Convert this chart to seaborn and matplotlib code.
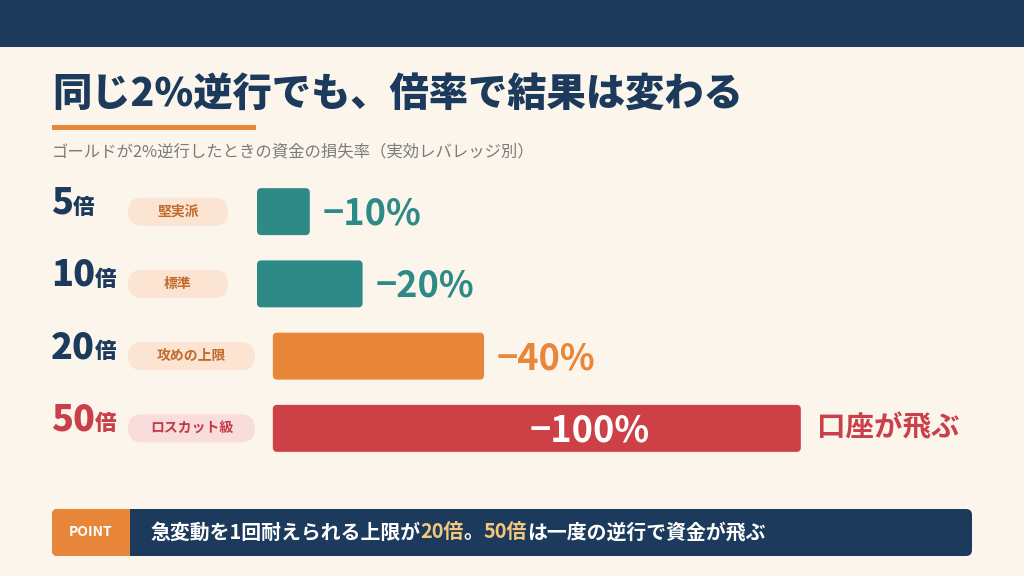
import matplotlib.pyplot as plt
import matplotlib.transforms as mtransforms
from matplotlib.patches import FancyBboxPatch, Rectangle
import seaborn as sns
import pandas as pd


TITLE = "同じ2%逆行でも、倍率で結果は変わる"
SUBTITLE = "ゴールドが2%逆行したときの資金の損失率（実効レバレッジ別）"
LEVERAGE = ["5", "10", "20", "50"]
LOSS = [10, 20, 40, 100]
LOSS_LABELS = ["−10%", "−20%", "−40%", "−100%"]
TAGS = ["堅実派", "標準", "攻めの上限", "ロスカット級"]
NOTE = "口座が飛ぶ"
POINT_PARTS = [
    ("急変動を1回耐えられる上限が", False),
    ("20倍", True),
    ("。", False),
    ("50倍", True),
    ("は一度の逆行で資金が飛ぶ", False),
]

NAVY = "#1b3a5c"
CREAM = "#fcf5ec"
TEAL = "#2e8a87"
ORANGE = "#e8863a"
RED = "#cc4046"
GOLD = "#f3c77d"
BAR_COLORS = [TEAL, TEAL, ORANGE, RED]
LABEL_COLORS = [NAVY, NAVY, NAVY, "#c9404a"]
PILL_FACE = ["#fbe5d2", "#fbe5d2", "#fbe5d2", "#f9dcdc"]
PILL_TEXT = ["#c06a2c", "#c06a2c", "#c06a2c", "#c23b48"]
PILL_W = [100, 100, 127, 127]
BAR_SHIFT = [0, 0, 3, 3]   # bars of the wider pills start a little further right
PX = 5.28                  # pixels per 1 % of loss
ROW = 72                   # pixels per row

sns.set_theme(style="white")
plt.rcParams["font.family"] = ["Noto Sans CJK JP", "DejaVu Sans"]

fig = plt.figure(figsize=(10.24, 5.76), dpi=100, facecolor=CREAM)

# pixel-space layer for the decoration
bg = fig.add_axes([0, 0, 1, 1])
bg.set_xlim(0, 1024)
bg.set_ylim(576, 0)
bg.axis("off")

bg.add_patch(Rectangle((0, 0), 1024, 47, fc=NAVY, ec="none"))
bg.text(52, 95, TITLE, fontsize=28.3, weight="black", color=NAVY, va="center", ha="left")
bg.add_patch(Rectangle((52, 125), 204, 5, fc=ORANGE, ec="none"))
bg.text(52, 152, SUBTITLE, fontsize=11.8, color="#7b7b7b", va="center", ha="left")

# bar chart
ax = fig.add_axes([257 / 1024, 1 - 464.5 / 576, 740 / 1024, 289 / 576])
ax.patch.set_alpha(0)
df = pd.DataFrame({"lev": [l + "倍" for l in LEVERAGE], "loss": LOSS})
sns.barplot(data=df, x="loss", y="lev", hue="lev", palette=BAR_COLORS,
            legend=False, orient="h", width=0.65, ax=ax)
ax.set_xlim(0, 740 / PX)
ax.set_ylim(3.5, -0.5)
ax.axis("off")

for bar in list(ax.patches):
    x, y, w, h = bar.get_x(), bar.get_y(), bar.get_width(), bar.get_height()
    i = int(round(y + h / 2))
    bar.set_visible(False)
    ax.add_patch(FancyBboxPatch((x + BAR_SHIFT[i], y), w, h,
                                boxstyle="round,pad=0,rounding_size=0.8",
                                mutation_aspect=PX / ROW,
                                fc=BAR_COLORS[i], ec="none"))

trans = mtransforms.blended_transform_factory(bg.transData, ax.transData)

for i in range(len(LEVERAGE)):
    base = i + 2 / ROW
    t = ax.text(51, base, LEVERAGE[i], transform=trans, fontsize=26, weight="black",
                color=LABEL_COLORS[i], va="baseline", ha="left")
    ax.annotate("倍", xy=(1, base), xycoords=(t, trans), xytext=(0, 0),
                textcoords="offset points", fontsize=15.5, weight="black",
                color=LABEL_COLORS[i], va="baseline", ha="left")

    yc = 576 - ax.transData.transform((0, i))[1]
    bg.add_patch(FancyBboxPatch((128, yc - 14), PILL_W[i], 28,
                                boxstyle="round,pad=0,rounding_size=14",
                                fc=PILL_FACE[i], ec="none"))
    bg.text(128 + PILL_W[i] / 2, yc, TAGS[i], fontsize=10, weight="bold",
            color=PILL_TEXT[i], va="center", ha="center")

    end = BAR_SHIFT[i] + LOSS[i]
    if i < 3:
        ax.text(end + 2.4, i + 13 / ROW, LOSS_LABELS[i], fontsize=26, weight="bold",
                color=BAR_COLORS[i], va="baseline", ha="left")
    else:
        ax.text(BAR_SHIFT[i] + LOSS[i] * 0.6, i + 13 / ROW, LOSS_LABELS[i], fontsize=26,
                weight="bold", color="white", va="baseline", ha="center")
        ax.text(end + 3, i, NOTE, fontsize=20.5, weight="bold", color="#c9404a",
                va="center", ha="left")

# POINT banner
bg.add_patch(FancyBboxPatch((52, 509), 920, 47, boxstyle="round,pad=0,rounding_size=6",
                            fc=NAVY, ec="none"))
bg.add_patch(FancyBboxPatch((52, 509), 86, 47, boxstyle="round,pad=0,rounding_size=6",
                            fc=ORANGE, ec="none"))
bg.add_patch(Rectangle((130, 509), 10, 47, fc=NAVY, ec="none"))
bg.text(91, 532.5, "POINT", fontsize=10, weight="bold", color="white",
        va="center", ha="center")

prev = None
for part, hl in POINT_PARTS:
    color = GOLD if hl else "white"
    if prev is None:
        prev = bg.text(150, 538.5, part, fontsize=14.3, weight="bold", color=color,
                       va="baseline", ha="left")
    else:
        prev = bg.annotate(part, xy=(1, 538.5), xycoords=(prev, bg.transData),
                           fontsize=14.3, weight="bold", color=color,
                           va="baseline", ha="left")

fig.savefig("out.png", dpi=100, facecolor=CREAM)
